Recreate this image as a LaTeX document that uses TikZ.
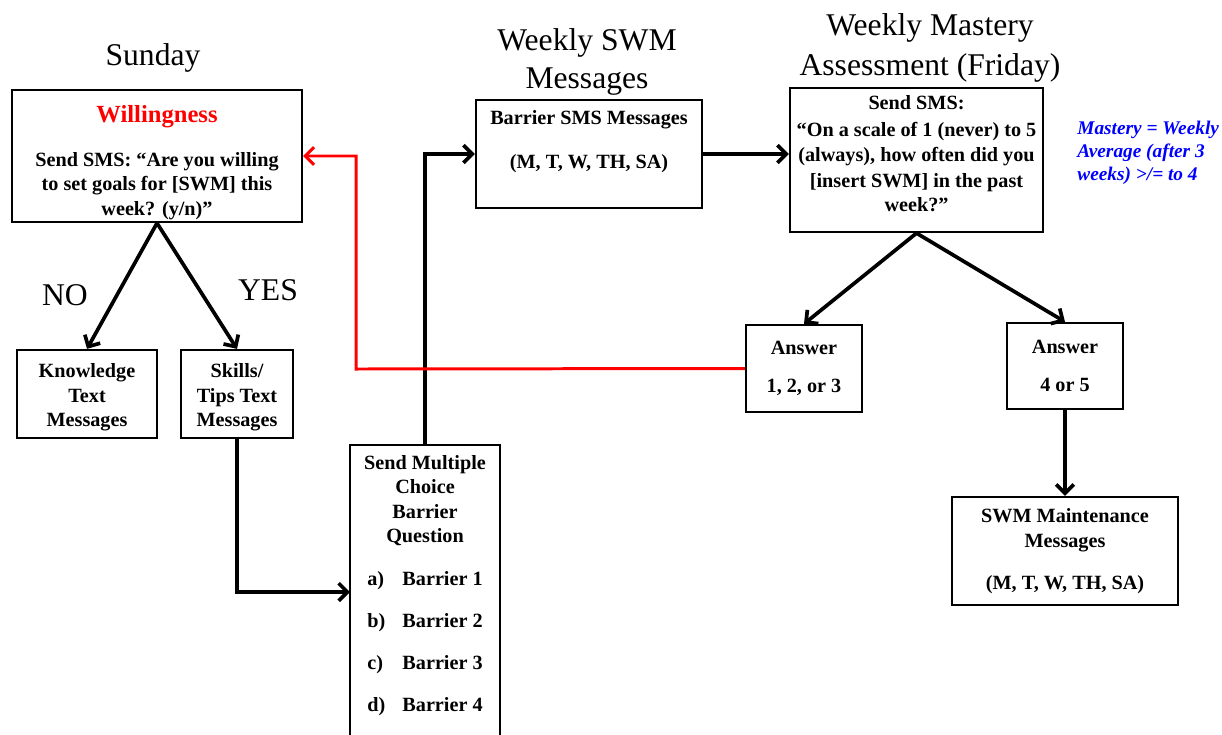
\documentclass[tikz,border=0pt]{standalone}
\usepackage{fontspec}
\setmainfont{Liberation Serif}
\usetikzlibrary{arrows.meta,positioning}
\newcommand{\topstrut}[1]{\rule{0pt}{#1}}
\tikzset{msg box/.style={rectangle,draw,line width=1.3pt,inner sep=0pt,align=center,
           font=\bfseries\fontsize{11.5}{14}\selectfont},
         head text/.style={align=center,font=\fontsize{18}{21.5}\selectfont},
         note text/.style={align=left,text=blue,inner sep=0pt,font=\bfseries\itshape\fontsize{11}{13}\selectfont},
         flow line/.style={-{Straight Barb[length=5pt,width=10pt]},line width=2.1pt},
         back line/.style={flow line,red,line width=1.7pt}
}

\begin{document}
\begin{tikzpicture}[x=0.02cm,y=-0.02cm]
\clip (0,0) rectangle (1222,734);
% headings
\node[head text] (sun) at (153,58) {Sunday};
\node[head text] (wk) at (587,62) {Weekly SWM\\Messages};
\node[head text] (fri) at (930,48) {Weekly Mastery\\[1.5pt]Assessment (Friday)};
\node[head text] (no) at (65,295) {NO};
\node[head text] (yes) at (268,290) {YES};

% boxes
\node[msg box,minimum width=5.8cm,minimum height=2.64cm] (will) at (157,156)
  {{\color{red}\fontsize{14}{16}\selectfont\topstrut{17pt}Willingness}\\[11pt]
   Send SMS: “Are you willing\\ to set goals for {[}SWM] this\\ week? (y/n)”};
\node[msg box,minimum width=4.52cm,minimum height=2.16cm] (barrier) at (589,154)
  {Barrier SMS Messages\\[11pt](M, T, W, TH, SA)\\[2pt]~};
\node[msg box,minimum width=5.06cm,minimum height=2.88cm] (mastery) at (916.5,160)
  {Send SMS:\\[1pt] “On a scale of 1 (never) to 5\\[0.5pt] (always), how often did you\\[0.5pt]
   {[}insert SWM] in the past\\[0pt] week?”\\[-7pt]~};
\node[note text,anchor=west] (note) at (1077,153)
  {Mastery = Weekly\\ Average (after 3\\ weeks) >/= to 4};
\node[msg box,minimum width=2.32cm,minimum height=1.74cm] (ans1) at (804,368.5)
  {Answer\\[8pt]1, 2, or 3};
\node[msg box,minimum width=2.32cm,minimum height=1.72cm] (ans2) at (1065,366)
  {Answer\\[8pt]4 or 5};
\node[msg box,minimum width=4.52cm,minimum height=2.16cm] (maint) at (1065,551)
  {SWM Maintenance\\ Messages\\[10pt](M, T, W, TH, SA)};
\node[msg box,minimum width=2.8cm,minimum height=1.76cm] (know) at (87,394)
  {\topstrut{12pt}Knowledge\\ Text\\ Messages};
\node[msg box,minimum width=2.24cm,minimum height=1.76cm] (skills) at (237,394)
  {\topstrut{12pt}Skills/\\ Tips Text\\ Messages};
\node[msg box,minimum width=3cm,inner ysep=5.7pt,anchor=north] (mc) at (425,444)
  {Send Multiple\\ Choice\\ Barrier\\ Question\\[10pt]
   \makebox[20pt][l]{a)}Barrier 1\\[10pt]
   \makebox[20pt][l]{b)}Barrier 2\\[10pt]
   \makebox[20pt][l]{c)}Barrier 3\\[10pt]
   \makebox[20pt][l]{d)}Barrier 4\\[20pt]~};

% connectors
\coordinate (mcin) at (350,592);
\coordinate (redturn) at (356,369);
\draw[flow line] (will.south) -- (know.north);
\draw[flow line] (will.south) -- (skills.north);
\draw[flow line] (skills.south) |- (mcin);
\draw[flow line] (mc.north) |- (barrier.west);
\draw[flow line] (barrier.east) -- (barrier.east -| mastery.west);
\draw[flow line] (mastery.south) -- (ans1.north);
\draw[flow line] (mastery.south) -- (ans2.north);
\draw[flow line] (ans2.south) -- (maint.north);
\draw[back line] (ans1.west) -- (redturn) |- (will.east);
\end{tikzpicture}
\end{document}
